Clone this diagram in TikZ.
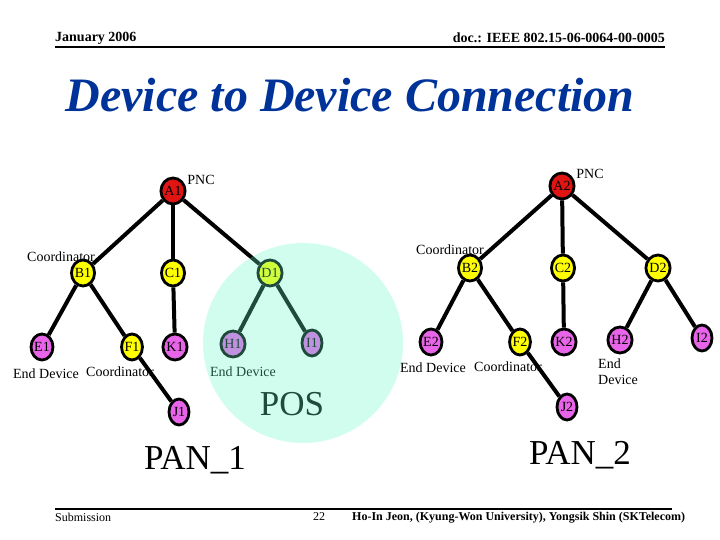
\documentclass[tikz,border=0pt]{standalone}
\usepackage{fontspec}
\setmainfont{Liberation Serif}
\usetikzlibrary{shapes.geometric}
\definecolor{titleblue}{RGB}{0,51,153}
\definecolor{pncred}{RGB}{225,20,20}
\definecolor{crdyellow}{RGB}{255,255,0}
\definecolor{endmagenta}{RGB}{232,100,232}
\definecolor{posmint}{RGB}{100,250,200}
\tikzset{
  dev/.style={draw, ellipse, line width=2.8pt, minimum width=20pt, minimum height=26pt, inner sep=0pt, font=\fontsize{14}{14}\selectfont},
  pnc/.style={dev, fill=pncred},
  crd/.style={dev, fill=crdyellow},
  enddev/.style={dev, fill=endmagenta},
  lbl/.style={font=\fontsize{14}{14}\selectfont, inner sep=0pt},
  big/.style={font=\fontsize{35}{35}\selectfont, inner sep=0pt},
  link/.style={line width=4pt},
}
\begin{document}
\begin{tikzpicture}[x=1pt, y=-1pt]
\useasboundingbox (0,0) rectangle (720,540);
% header and footer
\node[font=\bfseries\fontsize{14}{14}\selectfont, anchor=west, inner sep=0pt] (date) at (55,38) {January 2006};
\node[font=\bfseries\fontsize{14}{14}\selectfont, anchor=east, inner sep=0pt] (doc) at (665,38) {doc.: IEEE 802.15-06-0064-00-0005};
\draw[line width=2pt] (55,47) -- (665,47);
\draw[line width=2pt] (55,509) -- (672,509);
\node[font=\fontsize{12}{12}\selectfont, anchor=west, inner sep=0pt] (sub) at (55,517) {Submission};
\node[font=\fontsize{12}{12}\selectfont, inner sep=0pt] (page) at (319,517) {22};
\node[font=\bfseries\fontsize{12}{12}\selectfont, anchor=west, inner sep=0pt] (authors) at (352,518) {Ho-In Jeon, (Kyung-Won University), Yongsik Shin (SKTelecom)};
% title
\node[font=\bfseries\itshape\fontsize{48}{48}\selectfont, text=titleblue, inner sep=0pt] (title) at (350,95) {Device to Device Connection};

% PAN_1
\node[pnc] (a1) at (173,191) {A1};
\node[crd] (b1) at (83,273) {B1};
\node[crd] (c1) at (173,273) {C1};
\node[crd] (d1) at (270,273) {D1};
\node[enddev] (e1) at (42,347) {E1};
\node[crd] (f1) at (132,347) {F1};
\node[enddev] (k1) at (175,347) {K1};
\node[enddev] (h1) at (233,344) {H1};
\node[enddev] (i1) at (312,343) {I1};
\node[enddev] (j1) at (179,412) {J1};
\draw[link] (a1) -- (b1);
\draw[link] (a1) -- (c1);
\draw[link] (a1) -- (d1);
\draw[link] (b1) -- (e1);
\draw[link] (b1) -- (f1);
\draw[link] (c1) -- (k1);
\draw[link] (d1) -- (h1);
\draw[link] (d1) -- (i1);
\draw[link] (f1) -- (j1);
\node[lbl] (pnc1) at (201,180) {PNC};
\node[lbl] (crd1) at (61,257) {Coordinator};
\node[lbl] (end1) at (46,374) {End Device};
\node[lbl] (crd1b) at (120,372) {Coordinator};
\node[lbl] (end1b) at (243,372) {End Device};
\node[big] (pan1) at (195,460) {PAN\_1};

% PAN_2
\node[pnc] (a2) at (562,186) {A2};
\node[crd] (b2) at (470,268) {B2};
\node[crd] (c2) at (563,268) {C2};
\node[crd] (d2) at (658,268) {D2};
\node[enddev] (e2) at (431,342) {E2};
\node[crd] (f2) at (520,342) {F2};
\node[enddev] (k2) at (564,342) {K2};
\node[enddev] (h2) at (620,340) {H2};
\node[enddev] (i2) at (702,338) {I2};
\node[enddev] (j2) at (567,407) {J2};
\draw[link] (a2) -- (b2);
\draw[link] (a2) -- (c2);
\draw[link] (a2) -- (d2);
\draw[link] (b2) -- (e2);
\draw[link] (b2) -- (f2);
\draw[link] (c2) -- (k2);
\draw[link] (d2) -- (h2);
\draw[link] (d2) -- (i2);
\draw[link] (f2) -- (j2);
\node[lbl] (pnc2) at (590,174) {PNC};
\node[lbl] (crd2) at (450,250) {Coordinator};
\node[lbl] (end2) at (433,368) {End Device};
\node[lbl] (crd2b) at (508,367) {Coordinator};
\node[lbl, anchor=north west, align=left] (end2b) at (598,359) {End\\[2pt]Device};
\node[big] (pan2) at (580,455) {PAN\_2};

% POS overlay
\node[big] (pos) at (292,404) {POS};
\fill[posmint, opacity=0.3] (303,343) circle[radius=100pt];
\end{tikzpicture}
\end{document}
